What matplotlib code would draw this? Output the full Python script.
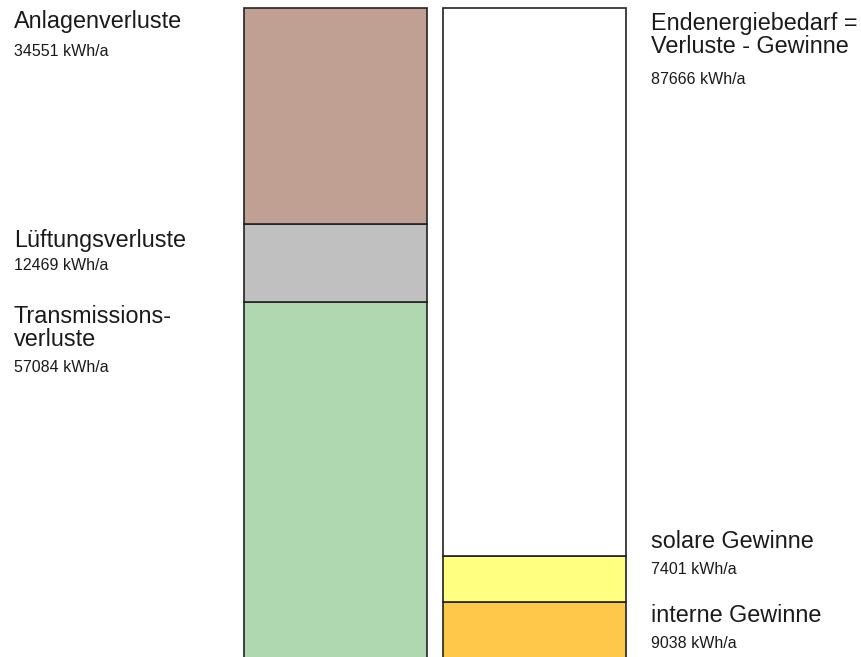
import matplotlib
matplotlib.use("Agg")
import matplotlib.pyplot as plt

# Data
loss_labels = ["Transmissions-\nverluste", "Lüftungsverluste", "Anlagenverluste"]
loss_values = [57084, 12469, 34551]
loss_colors = ["#b0d8b0", "#c0c0c0", "#bfa093"]

gain_labels = ["interne Gewinne", "solare Gewinne", "Endenergiebedarf =\nVerluste - Gewinne"]
gain_values = [9038, 7401, 87666]
gain_colors = ["#ffc84b", "#ffff80", "#ffffff"]

unit = "kWh/a"

plt.rcParams['font.family'] = ['Liberation Sans', 'DejaVu Sans']

fig = plt.figure(figsize=(8.61, 6.57), dpi=100)
ax = fig.add_axes([0, 0, 1, 1])
total = sum(loss_values)
scale = 651 / total  # px per unit
ax.set_xlim(0, 861)
ax.set_ylim(2 / scale, total + 8 / scale)
ax.axis("off")

big = 16.8
small = 11.5

def draw_stack(xc, values, colors, labels, label_x, offsets):
    bottom = 0
    for v, c, lab, (ob, os_) in zip(values, colors, labels, offsets):
        ax.bar(xc, v, width=183, bottom=bottom, color=c, edgecolor="#222222",
               linewidth=1.2, zorder=2)
        top = bottom + v
        ax.annotate(lab, (label_x, top), xytext=(0, ob), textcoords="offset pixels",
                    ha="left", va="baseline", fontsize=big, color="#1a1a1a",
                    linespacing=1.0)
        ax.annotate(f"{v} {unit}", (label_x, top), xytext=(0, os_), textcoords="offset pixels",
                    ha="left", va="baseline", fontsize=small, color="#1a1a1a")
        bottom = top

draw_stack(335.5, loss_values, loss_colors, loss_labels, 14,
           [(-44, -70), (-23, -46), (-20, -48)])
draw_stack(534.5, gain_values, gain_colors, gain_labels, 651,
           [(-20, -46), (8, -18), (-45, -76)])

fig.savefig("out.png", dpi=100)
